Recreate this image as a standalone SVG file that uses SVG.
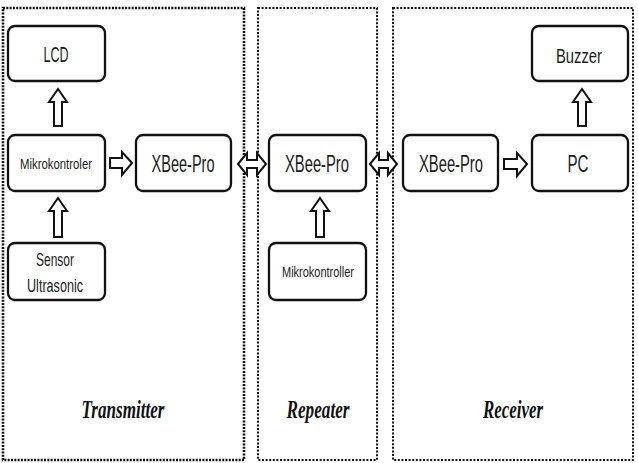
<svg xmlns="http://www.w3.org/2000/svg" width="638" height="463" viewBox="0 0 638 463">
<style>
.sec{fill:none;stroke:#111;}
.box{fill:#fff;stroke:#111;stroke-width:2.3;}
.arr{fill:#fff;stroke:#111;stroke-width:2;stroke-linejoin:miter;}
.t{font-family:"Liberation Sans",Arial,sans-serif;fill:#1c1c1c;text-anchor:middle;}
.lab{font-family:"Liberation Serif","Times New Roman",serif;font-style:italic;font-weight:bold;font-size:25px;fill:#111;text-anchor:middle;}
</style>
<rect width="638" height="463" fill="#fff"/>
<g id="sections">
<rect class="sec" x="3" y="8" width="241" height="452" stroke-width="2.6" stroke-dasharray="2 1.3"/>
<rect class="sec" x="258" y="8" width="119" height="452" stroke-width="2" stroke-dasharray="2 1.6"/>
<rect class="sec" x="393" y="8" width="240" height="452" stroke-width="2" stroke-dasharray="2 1.6"/>
<text class="lab" x="123" y="418" textLength="83" lengthAdjust="spacingAndGlyphs">Transmitter</text>
<text class="lab" x="318" y="418" textLength="63" lengthAdjust="spacingAndGlyphs">Repeater</text>
<text class="lab" x="513" y="418" textLength="60" lengthAdjust="spacingAndGlyphs">Receiver</text>
</g>
<g id="connectors">
<polygon class="arr" points="58,89 67,102 62,102 62,126 54,126 54,102 49,102"/>
<polygon class="arr" points="58,198 67,211 62,211 62,237 54,237 54,211 49,211"/>
<polygon class="arr" points="320,198 329,211 324,211 324,237 316,237 316,211 311,211"/>
<polygon class="arr" points="582,89 591,102 586,102 586,126 578,126 578,102 573,102"/>
<polygon class="arr" points="132,163 122,152 122,158 110,158 110,168 122,168 122,175"/>
<polygon class="arr" points="527,164 517,153 517,159 504,159 504,169 517,169 517,176"/>
<polygon class="arr" points="238,164 247,153 247,160 257,160 257,153 266,164 257,175 257,168 247,168 247,175"/>
<polygon class="arr" points="370,164 379,153 379,160 388,160 388,153 397,164 388,175 388,168 379,168 379,175"/>
</g>
<g id="lcd">
<rect class="box" x="8" y="26" width="97" height="55" rx="7"/>
<text class="t" x="56" y="62" font-size="22" textLength="25" lengthAdjust="spacingAndGlyphs">LCD</text>
</g>
<g id="mikro-tx">
<rect class="box" x="8" y="135" width="97" height="56" rx="7"/>
<text class="t" x="56" y="169" font-size="14" textLength="72" lengthAdjust="spacingAndGlyphs">Mikrokontroler</text>
</g>
<g id="sensor">
<rect class="box" x="8" y="243" width="97" height="57" rx="7"/>
<text class="t" x="55" y="266" font-size="19" textLength="38" lengthAdjust="spacingAndGlyphs">Sensor</text>
<text class="t" x="55" y="292" font-size="19" textLength="56" lengthAdjust="spacingAndGlyphs">Ultrasonic</text>
</g>
<g id="xbee-tx">
<rect class="box" x="136" y="135" width="95" height="56" rx="7"/>
<text class="t" x="183" y="172" font-size="23" textLength="63" lengthAdjust="spacingAndGlyphs">XBee-Pro</text>
</g>
<g id="xbee-rep">
<rect class="box" x="269" y="135" width="97" height="56" rx="7"/>
<text class="t" x="317" y="172" font-size="23" textLength="64" lengthAdjust="spacingAndGlyphs">XBee-Pro</text>
</g>
<g id="mikro-rep">
<rect class="box" x="269" y="243" width="97" height="57" rx="7"/>
<text class="t" x="318" y="277" font-size="14" textLength="72" lengthAdjust="spacingAndGlyphs">Mikrokontroller</text>
</g>
<g id="xbee-rx">
<rect class="box" x="403" y="135" width="95" height="56" rx="7"/>
<text class="t" x="451" y="172" font-size="23" textLength="64" lengthAdjust="spacingAndGlyphs">XBee-Pro</text>
</g>
<g id="pc">
<rect class="box" x="532" y="135" width="96" height="56" rx="7"/>
<text class="t" x="578" y="172" font-size="23" textLength="21" lengthAdjust="spacingAndGlyphs">PC</text>
</g>
<g id="buzzer">
<rect class="box" x="532" y="26" width="96" height="55" rx="7"/>
<text class="t" x="579" y="63" font-size="21" textLength="46" lengthAdjust="spacingAndGlyphs">Buzzer</text>
</g>
</svg>
